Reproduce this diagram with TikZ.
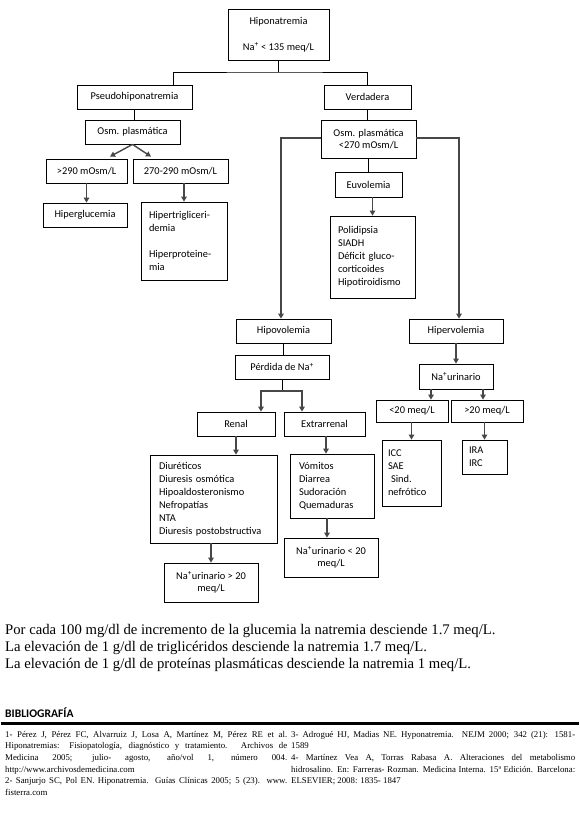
\documentclass[tikz,border=0pt]{standalone}
\usepackage{fontspec}
\setmainfont{Liberation Serif}
\newfontfamily\calib{Carlito}
\usetikzlibrary{arrows.meta}
\begin{document}
\begin{tikzpicture}[x=1pt,y=-1pt,
  box/.style={draw=black, line width=0.8pt, inner sep=0pt, align=center,
    font=\calib\fontsize{10.4}{12.6}\selectfont},
  lbox/.style={box, align=left, font=\calib\fontsize{10.4}{13.1}\selectfont},
  ln/.style={draw=black, line width=0.8pt},
  arr/.style={draw=black!72, line width=1.4pt, -{Triangle[length=5pt,width=5.5pt]}},
  bodytxt/.style={anchor=base west, inner sep=0pt, font=\fontsize{14.7}{17}\selectfont},
  bibtxt/.style={anchor=north west, inner sep=0pt, align=left, font=\fontsize{8.8}{11.6}\selectfont}
]
\useasboundingbox (0,0) rectangle (580,821);

% top
\node[box, minimum width=101pt, minimum height=51pt] (hipo) at (278.5,34.5) {Hiponatremia\\[13.4pt]Na\textsuperscript{+} < 135 meq/L};
\node[box, minimum width=115pt, minimum height=24pt] (pseudo) at (134.5,97) {Pseudohiponatremia};
\node[box, minimum width=87pt, minimum height=24pt] (verd) at (367.5,97) {Verdadera};
\coordinate (j1) at (278.5,72);

% left branch
\node[box, minimum width=95pt, minimum height=24pt] (osmL) at (132.5,132) {Osm. plasmática};
\node[box, minimum width=81pt, minimum height=24pt] (g290) at (86.5,171) {>290 mOsm/L};
\node[box, minimum width=95pt, minimum height=24pt] (g270) at (180.5,171) {270-290 mOsm/L};
\node[box, minimum width=84pt, minimum height=24pt] (hgluc) at (85,215) {Hiperglucemia};
\node[lbox, text width=70pt, inner xsep=8pt, minimum height=78pt] (htrig) at (184,241) {Hipertrigliceri-\\demia\\[12.6pt]Hiperproteine-\\mia};

% right branch
\node[box, minimum width=95pt, minimum height=38pt] (osmR) at (368.5,139) {Osm. plasmática\\<270 mOsm/L};
\node[box, minimum width=67pt, minimum height=25pt] (euv) at (368.5,184.5) {Euvolemia};
\node[lbox, text width=69pt, inner xsep=8pt, minimum height=82pt] (poli) at (372.5,257) {Polidipsia\\SIADH\\Déficit gluco-\\corticoides\\Hipotiroidismo};

\node[box, minimum width=95pt, minimum height=24pt] (hipov) at (283.5,331) {Hipovolemia};
\node[box, minimum width=94pt, minimum height=24pt] (perd) at (282,367) {Pérdida de Na\textsuperscript{+}};
\node[box, minimum width=78pt, minimum height=24pt] (renal) at (236,424) {Renal};
\node[box, minimum width=81pt, minimum height=24pt] (extra) at (324.5,424) {Extrarrenal};
\node[lbox, text width=109pt, inner xsep=9pt, minimum height=88pt] (diur) at (213.5,499) {Diuréticos\\Diuresis osmótica\\Hipoaldosteronismo\\Nefropatías\\NTA\\Diuresis postobstructiva};
\node[lbox, text width=66pt, inner xsep=9pt, minimum height=64pt] (vom) at (332,486) {Vómitos\\Diarrea\\Sudoración\\Quemaduras};
\node[box, minimum width=94pt, minimum height=39pt] (na20a) at (211,582.5) {Na\textsuperscript{+}urinario > 20\\meq/L};
\node[box, minimum width=94pt, minimum height=39pt] (na20b) at (331,557.5) {Na\textsuperscript{+}urinario < 20\\meq/L};
\coordinate (j2) at (282,391);

\node[box, minimum width=94pt, minimum height=24pt] (hiperv) at (456,331) {Hipervolemia};
\node[box, minimum width=74pt, minimum height=25pt] (naur) at (456,376.5) {Na\textsuperscript{+}urinario};
\node[box, minimum width=72pt, minimum height=22pt] (lt20) at (412,411) {<20 meq/L};
\node[box, minimum width=72pt, minimum height=22pt] (gt20) at (487,411) {>20 meq/L};
\node[lbox, text width=47pt, inner xsep=6pt, minimum height=66pt] (icc) at (411.5,473) {ICC\\SAE\\\hspace*{3pt}Sind.\\nefrótico};
\node[lbox, text width=31pt, inner xsep=7pt, minimum height=34pt] (ira) at (484.5,457) {IRA\\IRC};

% connectors
\draw[ln] (hipo.south) -- (j1);
\draw[ln] (pseudo.north -| 173,0) |- (j1) -| (verd.north);
\draw[ln] (pseudo.south) -- (pseudo.south |- osmL.north);
\draw[arr] (osmL.south) -- ([xshift=23.5pt,yshift=2pt]g290.north);
\draw[arr] (osmL.south) -- ([xshift=-29.5pt,yshift=2pt]g270.north);
\draw[arr] (g290.south) -- (g290.south |- hgluc.north);
\draw[arr] (htrig.north |- g270.south) -- (htrig.north);

\draw[ln] (verd.south) -- (verd.south |- osmR.north);
\draw[ln] (osmR.south) -- (osmR.south |- euv.north);
\draw[arr] (poli.north |- euv.south) -- (poli.north);
\draw[arr] ([yshift=1pt]osmR.west) -| (hipov.north -| 281,0);
\draw[arr] ([yshift=1pt]osmR.east) -| (hiperv.north -| 459,0);

\draw[ln] (hipov.south) -- (hipov.south |- perd.north);
\draw[ln] (perd.south) -- (j2);
\draw[arr] (j2) -| (renal.north -| 261,0);
\draw[arr] (j2) -| (extra.north -| 302,0);
\draw[arr] (renal.south) -- (renal.south |- diur.north);
\draw[arr] (extra.south -| 326,0) -- (vom.north -| 326,0);
\draw[arr] (na20a.north |- diur.south) -- (na20a.north);
\draw[arr] (vom.south -| 327,0) -- (na20b.north -| 327,0);

\draw[arr] (hiperv.south) -- (hiperv.south |- naur.north);
\draw[arr] (naur.south -| 431,0) -- (lt20.north -| 431,0);
\draw[arr] (naur.south -| 483,0) -- (gt20.north -| 483,0);
\draw[arr] (icc.north |- lt20.south) -- (icc.north);
\draw[arr] (ira.north |- gt20.south) -- (ira.north);

% notes
\node[bodytxt] (n1) at (5,634) {Por cada 100 mg/dl de incremento de la glucemia la natremia desciende 1.7 meq/L.};
\node[bodytxt] (n2) at (5,651) {La elevación de 1 g/dl de triglicéridos desciende la natremia 1.7 meq/L.};
\node[bodytxt] (n3) at (5,668) {La elevación de 1 g/dl de proteínas plasmáticas desciende la natremia 1 meq/L.};

\node[anchor=base west, inner sep=0pt, font=\calib\bfseries\fontsize{11.6}{13}\selectfont] (bib) at (5,717) {BIBLIOGRAFÍA};
\draw[line width=3pt] (1,723.5) -- (579,723.5);

\node[bibtxt] (bibL) at (5,731) {%
\makebox[282pt][s]{1- Pérez J, Pérez FC, Alvarruiz J, Losa A, Martínez M, Pérez RE et al.}\\
\makebox[282pt][s]{Hiponatremias: Fisiopatología, diagnóstico y tratamiento. Archivos de}\\
\makebox[282pt][s]{Medicina 2005; julio- agosto, año/vol 1, número 004.}\\
http://www.archivosdemedicina.com\\
\makebox[282pt][s]{2- Sanjurjo SC, Pol EN. Hiponatremia. Guías Clínicas 2005; 5 (23). www.}\\
fisterra.com};
\node[bibtxt] (bibR) at (291,731) {%
\makebox[284pt][s]{3- Adrogué HJ, Madias NE. Hyponatremia. NEJM 2000; 342 (21): 1581-}\\
1589\\
\makebox[284pt][s]{4- Martínez Vea A, Torras Rabasa A. Alteraciones del metabolismo}\\
\makebox[284pt][s]{hidrosalino. En: Farreras- Rozman. Medicina Interna. 15ª Edición. Barcelona:}\\
ELSEVIER; 2008: 1835- 1847};
\end{tikzpicture}
\end{document}
